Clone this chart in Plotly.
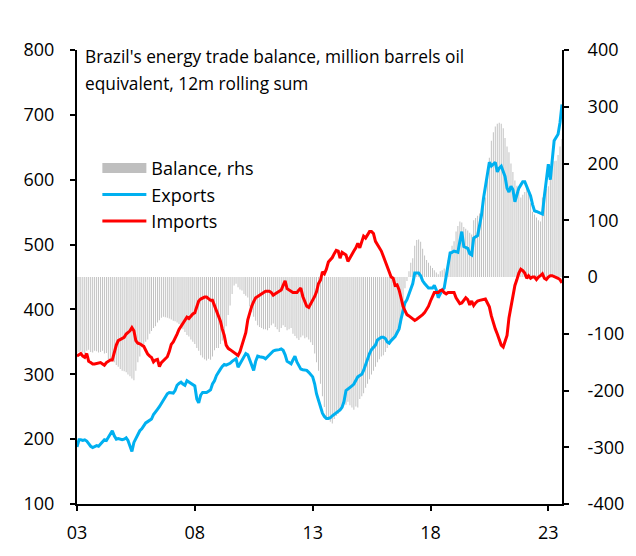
import plotly.graph_objects as go

# ---- data (monthly, Jan 2003 - Aug 2023) ----
exports_by_year = {
    2003: [188, 199, 199, 198, 199, 197, 193, 189, 187, 188, 190, 189],
    2004: [192, 196, 199, 198, 203, 208, 213, 205, 200, 201, 200, 199],
    2005: [200, 202, 198, 190, 181, 195, 201, 207, 213, 216, 220, 225],
    2006: [227, 229, 231, 238, 243, 246, 250, 255, 260, 266, 270, 272],
    2007: [272, 271, 275, 283, 286, 288, 285, 283, 290, 288, 286, 283],
    2008: [282, 262, 256, 268, 272, 272, 272, 274, 276, 285, 290, 298],
    2009: [304, 308, 312, 315, 314, 315, 317, 320, 322, 324, 311, 316],
    2010: [322, 326, 332, 330, 322, 315, 306, 320, 328, 327, 327, 326],
    2011: [324, 327, 330, 333, 336, 337, 337, 338, 339, 337, 330, 320],
    2012: [318, 316, 322, 328, 319, 314, 308, 307, 306, 306, 303, 300],
    2013: [296, 285, 270, 260, 250, 240, 235, 232, 232, 233, 236, 238],
    2014: [240, 242, 245, 249, 258, 275, 277, 280, 282, 285, 292, 296],
    2015: [298, 300, 306, 315, 326, 332, 338, 341, 345, 353, 355, 357],
    2016: [357, 355, 350, 348, 352, 356, 358, 364, 370, 385, 398, 410],
    2017: [415, 423, 432, 440, 456, 456, 456, 452, 444, 440, 436, 433],
    2018: [433, 433, 437, 430, 418, 425, 430, 433, 450, 464, 487, 488],
    2019: [490, 489, 488, 505, 520, 497, 495, 494, 486, 484, 510, 512],
    2020: [514, 530, 545, 571, 590, 610, 627, 621, 624, 627, 612, 618],
    2021: [621, 612, 605, 587, 581, 590, 585, 566, 577, 587, 592, 597],
    2022: [597, 590, 581, 575, 562, 552, 551, 550, 548, 547, 575, 600],
    2023: [624, 600, 634, 660, 665, 670, 688, 716],
}

imports_by_year = {
    2003: [328, 330, 332, 328, 326, 332, 320, 318, 316, 316, 317, 318],
    2004: [318, 316, 314, 318, 320, 322, 322, 334, 345, 352, 354, 355],
    2005: [357, 362, 364, 367, 372, 367, 352, 348, 347, 345, 343, 337],
    2006: [331, 328, 326, 319, 322, 323, 312, 318, 321, 325, 327, 335],
    2007: [346, 350, 357, 362, 369, 374, 380, 384, 388, 386, 390, 393],
    2008: [395, 404, 413, 416, 418, 419, 419, 416, 414, 414, 406, 398],
    2009: [390, 382, 370, 360, 345, 340, 338, 336, 334, 332, 329, 335],
    2010: [345, 355, 364, 384, 395, 405, 412, 418, 420, 422, 424, 426],
    2011: [428, 428, 428, 426, 422, 424, 426, 428, 430, 437, 444, 432],
    2012: [430, 428, 426, 426, 426, 430, 433, 420, 413, 405, 403, 408],
    2013: [413, 420, 427, 440, 445, 458, 455, 462, 473, 476, 480, 486],
    2014: [491, 490, 479, 488, 486, 484, 474, 480, 484, 490, 495, 502],
    2015: [495, 505, 513, 510, 515, 520, 520, 517, 505, 500, 497, 490],
    2016: [482, 474, 468, 460, 450, 448, 437, 438, 430, 418, 405, 398],
    2017: [392, 390, 388, 386, 383, 385, 387, 390, 392, 395, 400, 405],
    2018: [413, 420, 426, 426, 426, 429, 430, 426, 424, 426, 426, 426],
    2019: [426, 418, 413, 409, 410, 415, 418, 415, 407, 413, 406, 410],
    2020: [413, 414, 415, 416, 416, 410, 404, 390, 378, 370, 362, 352],
    2021: [345, 342, 350, 360, 387, 403, 422, 437, 446, 456, 462, 460],
    2022: [456, 448, 452, 448, 450, 450, 446, 450, 452, 455, 448, 446],
    2023: [450, 452, 452, 451, 450, 448, 446, 441],
}

balance_by_year = {
    2003: [-135, -132, -130, -133, -136, -130, -128, -132, -133, -130, -131, -133],
    2004: [-132, -130, -135, -134, -145, -148, -146, -150, -155, -158, -162, -165],
    2005: [-166, -168, -172, -175, -179, -182, -165, -150, -140, -124, -118, -114],
    2006: [-110, -100, -95, -90, -87, -80, -76, -72, -70, -71, -72, -73],
    2007: [-75, -77, -78, -80, -83, -85, -92, -97, -102, -105, -110, -114],
    2008: [-118, -125, -130, -138, -142, -145, -147, -144, -146, -140, -129, -125],
    2009: [-125, -118, -112, -100, -87, -67, -50, -30, -15, -12, -18, -22],
    2010: [-24, -30, -33, -36, -52, -62, -70, -77, -85, -88, -90, -92],
    2011: [-92, -94, -90, -85, -82, -88, -92, -97, -90, -85, -88, -94],
    2012: [-92, -90, -100, -104, -108, -111, -106, -103, -108, -106, -110, -115],
    2013: [-120, -135, -150, -165, -188, -210, -229, -246, -252, -255, -258, -250],
    2014: [-245, -241, -235, -228, -223, -225, -220, -226, -230, -234, -228, -230],
    2015: [-215, -210, -205, -195, -188, -180, -172, -165, -158, -150, -145, -140],
    2016: [-138, -132, -125, -118, -112, -108, -105, -98, -90, -82, -47, -20],
    2017: [-7, 10, 25, 33, 55, 65, 66, 62, 50, 38, 30, 25],
    2018: [20, 16, 12, 8, 5, 10, 12, 15, 8, 30, 45, 55],
    2019: [63, 80, 90, 98, 96, 88, 85, 82, 78, 75, 100, 104],
    2020: [108, 112, 118, 125, 140, 170, 210, 240, 255, 265, 270, 272],
    2021: [270, 262, 245, 230, 220, 200, 185, 170, 161, 150, 140, 145],
    2022: [150, 158, 150, 130, 115, 110, 105, 100, 98, 140, 150, 155],
    2023: [160, 180, 195, 204, 205, 215, 230, 243],
}

x_tick_vals = ["2003-01-01", "2008-01-01", "2013-01-01", "2018-01-01", "2023-01-01"]
x_tick_text = ["03", "08", "13", "18", "23"]
left_tick_vals = [100, 200, 300, 400, 500, 600, 700, 800]
right_tick_vals = [-400, -300, -200, -100, 0, 100, 200, 300, 400]

title_lines = ["Brazil's energy trade balance, million barrels oil",
               "equivalent, 12m rolling sum"]


def flatten(d):
    dates, vals = [], []
    for yr in sorted(d):
        for i, v in enumerate(d[yr]):
            dates.append(f"{yr}-{i + 1:02d}-01")
            vals.append(v)
    return dates, vals


dx, exports = flatten(exports_by_year)
_, imports = flatten(imports_by_year)
bx, balance = flatten(balance_by_year)

FONT = "Open Sans"
fig = go.Figure()

# Balance bars on the main (right-hand) axis so lines draw above them
fig.add_trace(go.Bar(
    x=bx, y=balance, name="Balance, rhs", showlegend=False,
    marker=dict(color="rgba(191,191,191,0.99)", line=dict(width=0)),
    width=15 * 24 * 3600 * 1000, yaxis="y",
))
# legend sample for the bars (wide grey block)
fig.add_trace(go.Scatter(
    x=[None], y=[None], mode="lines", name="Balance, rhs",
    line=dict(color="#BFBFBF", width=13), yaxis="y2",
))
fig.add_trace(go.Scatter(
    x=dx, y=exports, mode="lines", name="Exports",
    line=dict(color="#00B0F0", width=3), yaxis="y2",
))
fig.add_trace(go.Scatter(
    x=dx, y=imports, mode="lines", name="Imports",
    line=dict(color="#FF0000", width=3), yaxis="y2",
))

axis_common = dict(
    showgrid=False, zeroline=False, showline=True, linecolor="black",
    linewidth=2, ticks="outside", ticklen=5, tickwidth=2, tickcolor="black",
    tickfont=dict(family=FONT, size=18, color="black"),
)

annotations = []
for i, line in enumerate(title_lines):
    annotations.append(dict(
        text=line, xref="paper", yref="paper", x=0.0, xshift=6,
        y=[0.986, 0.926][i],
        xanchor="left", yanchor="middle", align="left", showarrow=False,
        font=dict(family=FONT, size=17.3, color="black"),
    ))

fig.update_layout(
    width=636, height=556,
    margin=dict(l=77, r=68, t=50, b=48),
    paper_bgcolor="white", plot_bgcolor="white",
    bargap=0.5,
    xaxis=dict(
        type="date", range=["2003-01-01", "2023-08-01"],
        tickmode="array", tickvals=x_tick_vals, ticktext=x_tick_text,
        ticklabelstandoff=6, **axis_common,
    ),
    yaxis=dict(
        range=[-400, 400], side="right",
        tickmode="array", tickvals=right_tick_vals,
        ticktext=[str(v) for v in right_tick_vals],
        ticklabelstandoff=15, **axis_common,
    ),
    yaxis2=dict(
        range=[100, 800], side="left", overlaying="y",
        tickmode="array", tickvals=left_tick_vals,
        ticktext=[str(v) for v in left_tick_vals],
        ticklabelstandoff=12, **axis_common,
    ),
    legend=dict(
        x=0.042, y=0.78, xanchor="left", yanchor="top",
        bgcolor="rgba(0,0,0,0)", itemwidth=44,
        font=dict(family=FONT, size=18, color="black"),
        tracegroupgap=0,
    ),
    annotations=annotations,
)

# remove the browser's default 8px page margin so the figure sits at (0, 0)
fig.write_html("out.html", config={"displayModeBar": False},
               post_script="document.body.style.margin='0px';")
